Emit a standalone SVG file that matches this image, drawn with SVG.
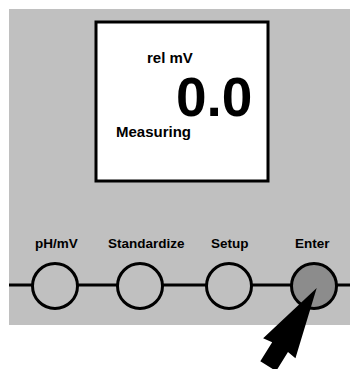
<svg xmlns="http://www.w3.org/2000/svg" width="350" height="369" viewBox="0 0 350 369">
  <style>
    .t { font-family: "Liberation Sans", Arial, sans-serif; font-weight: bold; fill: #000; }
    .lbl { font-size: 13.5px; }
    .scr { font-size: 15px; }
    .btn { fill: #c0c0c0; stroke: #000; stroke-width: 3; }
    .wire { stroke: #000; stroke-width: 3; fill: none; }
  </style>
  <rect id="panel" x="9" y="9" width="341" height="316" fill="#c0c0c0"/>
  <g id="connectors">
    <line class="wire" x1="9" y1="285" x2="350" y2="285"/>
  </g>
  <g id="screen">
    <rect x="96" y="22" width="172" height="159" fill="#fff" stroke="#000" stroke-width="3"/>
    <text class="t scr" x="147" y="63">rel mV</text>
    <text class="t" x="176" y="116" font-size="55">0.0</text>
    <text class="t scr" x="116" y="137">Measuring</text>
  </g>
  <g id="btn-phmv">
    <text class="t lbl" x="35" y="248">pH/mV</text>
    <circle class="btn" cx="55" cy="286" r="22.5"/>
  </g>
  <g id="btn-standardize">
    <text class="t lbl" x="108" y="248">Standardize</text>
    <circle class="btn" cx="140" cy="286" r="22.5"/>
  </g>
  <g id="btn-setup">
    <text class="t lbl" x="211" y="248">Setup</text>
    <circle class="btn" cx="229" cy="286" r="22.5"/>
  </g>
  <g id="btn-enter">
    <text class="t lbl" x="295" y="248">Enter</text>
    <circle class="btn" cx="314" cy="286" r="22.5" style="fill:#8c8c8c"/>
  </g>
  <g id="pointer">
    <polygon transform="translate(316.7,288) rotate(31.8)" points="0,0 19,71 9.3,69.5 9.3,92 -9.3,92 -9.3,69.5 -19,71" fill="#000"/>
  </g>
</svg>
